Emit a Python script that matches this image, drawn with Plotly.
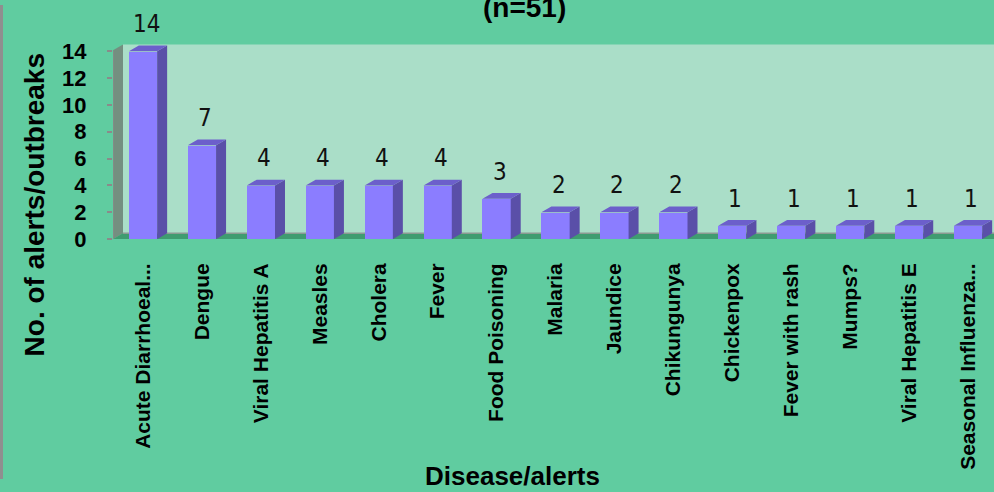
import plotly.graph_objects as go

categories = ["Acute Diarrhoeal...", "Dengue", "Viral Hepatitis A", "Measles", "Cholera",
              "Fever", "Food Poisoning", "Malaria", "Jaundice", "Chikungunya",
              "Chickenpox", "Fever with rash", "Mumps?", "Viral Hepatitis E",
              "Seasonal Influenza..."]
counts = [14, 7, 4, 4, 4, 4, 3, 2, 2, 2, 1, 1, 1, 1, 1]
y_ticks = [0, 2, 4, 6, 8, 10, 12, 14]
title_text = "(n=51)"
x_title = "Disease/alerts"
y_title = "No. of alerts/outbreaks"

W, H = 994, 492
# pixel geometry of plot
PX0, PX1 = 113, 994
PY_BOT, PY_TOP = 243, 41
CAT0_PX, CAT_STEP = 143.0, 58.93
YMAX = 14.5
px_per_y = (PY_BOT - PY_TOP) / YMAX

xmin = (PX0 - CAT0_PX) / CAT_STEP
xmax = (PX1 - CAT0_PX) / CAT_STEP
dx = 10 / CAT_STEP
dy = 6 / px_per_y
hw = 0.24

FRONT = "#8B7DFF"
TOP = "#6C5FCB"
SIDE = "#5A4FA8"
PAPER = "#60CCA0"
WALL = "#AADEC8"

idx = list(range(len(categories)))

# side and top faces from data
sx, sy, tx, ty = [], [], [], []
for i, v in zip(idx, counts):
    sx += [i + hw, i + hw + dx, i + hw + dx, i + hw, i + hw, None]
    sy += [0, dy, v + dy, v, 0, None]
    tx += [i - hw, i + hw, i + hw + dx, i - hw + dx, i - hw, None]
    ty += [v, v, v + dy, v + dy, v, None]

fig = go.Figure()
fig.add_trace(go.Scatter(x=sx, y=sy, mode="lines", fill="toself", fillcolor=SIDE,
                         line=dict(width=0, color=SIDE), hoverinfo="skip", showlegend=False))
fig.add_trace(go.Scatter(x=tx, y=ty, mode="lines", fill="toself", fillcolor=TOP,
                         line=dict(width=0, color=TOP), hoverinfo="skip", showlegend=False))
fig.add_trace(go.Bar(x=idx, y=counts, width=2 * hw, marker=dict(color=FRONT, line=dict(width=0)),
                     showlegend=False))

shapes = [
    # back wall
    dict(type="rect", xref="x", yref="y", x0=xmin + dx, x1=xmax + 0.05, y0=dy, y1=YMAX + 0.3,
         fillcolor=WALL, line=dict(width=0), layer="below"),
    # left wall
    dict(type="path", xref="x", yref="y",
         path=f"M {xmin},0 L {xmin + dx},{dy} L {xmin + dx},{YMAX} L {xmin},{YMAX - dy} Z",
         fillcolor="#748F80", line=dict(width=0), layer="below"),
    # floor
    dict(type="path", xref="x", yref="y",
         path=f"M {xmin},0 L {xmax + 0.05},0 L {xmax + 0.05},{dy} L {xmin + dx},{dy} Z",
         fillcolor="#3F9C70", line=dict(width=0), layer="below"),
    # floor back edge
    dict(type="line", xref="x", yref="y", x0=xmin + dx, x1=xmax + 0.05, y0=dy, y1=dy,
         line=dict(color="#8C9A92", width=1.5), layer="below"),
    # floor front edge
    dict(type="line", xref="x", yref="y", x0=xmin, x1=xmax + 0.05, y0=-1.3 / px_per_y, y1=-1.3 / px_per_y,
         line=dict(color="#8A8A8A", width=2.5), layer="below"),
    # left wall front edge
    dict(type="line", xref="x", yref="y", x0=xmin, x1=xmin, y0=0, y1=YMAX - dy,
         line=dict(color="#8A8A8A", width=1.5), layer="below"),
    # left border of the picture
    dict(type="rect", xref="paper", yref="paper", x0=0, x1=3 / W, y0=0, y1=1,
         fillcolor="#8F8F8F", line=dict(width=0), layer="below"),
]

annotations = []
for i, v in zip(idx, counts):
    annotations.append(dict(x=i, y=v, xref="x", yref="y", text=str(v), showarrow=False,
                            xshift=3, yshift=27, yanchor="middle",
                            font=dict(family="Liberation Sans Narrow, DejaVu Sans Condensed, Liberation Sans",
                                      size=24, color="#111111")))
annotations += [
    dict(x=524 / W, y=1 - 21 / H, xref="paper", yref="paper", text=f"<b>{title_text}</b>",
         showarrow=False, xanchor="center", yanchor="bottom",
         font=dict(family="Liberation Sans", size=28, color="#000000")),
    dict(x=512 / W, y=1 - 489 / H, xref="paper", yref="paper", text=f"<b>{x_title}</b>",
         showarrow=False, xanchor="center", yanchor="middle",
         font=dict(family="Liberation Sans", size=26, color="#000000")),
    dict(x=34 / W, y=1 - 208 / H, xref="paper", yref="paper", text=f"<b>{y_title}</b>",
         showarrow=False, xanchor="center", yanchor="middle", textangle=-90,
         font=dict(family="Liberation Sans", size=28, color="#000000")),
]

fig.update_layout(
    width=W, height=H,
    margin=dict(l=0, r=0, t=0, b=0),
    paper_bgcolor=PAPER, plot_bgcolor=PAPER,
    shapes=shapes, annotations=annotations,
    bargap=0, showlegend=False,
    xaxis=dict(domain=[PX0 / W, 1], range=[xmin, xmax], tickvals=idx, ticktext=categories,
               tickangle=-90, showgrid=False, zeroline=False, showline=False, ticks="",
               ticklabelstandoff=19,
               tickfont=dict(family="Liberation Sans", size=21, color="#000000", weight="bold")),
    yaxis=dict(domain=[1 - PY_BOT / H, 1 - PY_TOP / H], range=[0, YMAX], tickvals=y_ticks,
               showgrid=False, zeroline=False, showline=False, ticks="outside", ticklen=5,
               tickcolor="#8A8A8A", tickwidth=1.5, ticklabelstandoff=16,
               tickfont=dict(family="Liberation Sans", size=22, color="#000000", weight="bold")),
)

fig.write_html("out.html", config={"displayModeBar": False},
               post_script="document.body.style.margin='0';document.body.style.overflow='hidden';")
